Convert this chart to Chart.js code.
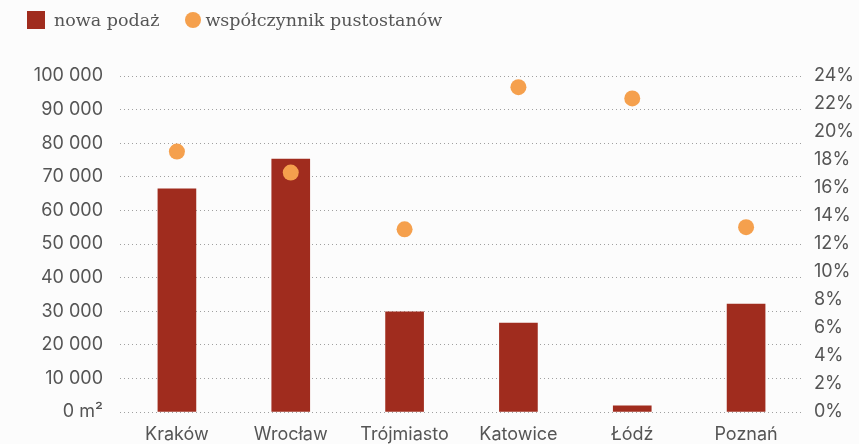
<!DOCTYPE html>
<html>
<head>
<meta charset="utf-8">
<script src="https://cdn.jsdelivr.net/npm/chart.js@4/dist/chart.umd.min.js"></script>
<style>
  html, body { margin: 0; padding: 0; background: #fcfcfc; }
  #wrap { position: relative; width: 859px; height: 444px; }
  #legend { position: absolute; left: 27px; top: 10px; display: flex; align-items: center;
    font-family: "DejaVu Serif", serif; font-size: 17.5px; color: #555; }
  #legend span.item { display: flex; align-items: center; margin-right: 26px; }
  #legend i { display: inline-block; margin-right: 9px; }
  canvas { position: absolute; left: 0; top: 0; }
</style>
</head>
<body>
<div id="wrap">
  <canvas id="chart" width="859" height="444"></canvas>
  <div id="legend"></div>
</div>
<script>
const cities = ['Kraków', 'Wrocław', 'Trójmiasto', 'Katowice', 'Łódź', 'Poznań']
const supply = [66400, 75300, 29800, 26500, 1800, 32100]
const vacancy = [18.6, 17.1, 13.05, 23.2, 22.4, 13.2]
const supplyLabel = 'nowa podaż'
const vacancyLabel = 'współczynnik pustostanów'
const barColor = '#A02C1E'
const dotColor = '#F5A04D'
const tickFont = { family: 'Inter', size: 18 }

const ctx = document.getElementById('chart')

const chart = new Chart(ctx, {
  data: {
    labels: cities,
    datasets: [
      {
        type: 'line',
        label: vacancyLabel,
        data: vacancy,
        yAxisID: 'y1',
        showLine: false,
        pointRadius: 8,
        pointHoverRadius: 8,
        pointBackgroundColor: dotColor,
        pointBorderWidth: 0,
        backgroundColor: dotColor,
        order: 0
      },
      {
        type: 'bar',
        label: supplyLabel,
        data: supply,
        yAxisID: 'y',
        backgroundColor: barColor,
        barThickness: 38,
        order: 1
      }
    ]
  },
  options: {
    responsive: false,
    animation: false,
    layout: { padding: { top: 76, left: 0, right: 0, bottom: 0 } },
    plugins: {
      legend: { display: false },
      tooltip: { enabled: false }
    },
    scales: {
      x: {
        grid: { display: false },
        border: { display: false },
        ticks: { color: '#555', font: tickFont, padding: 4, maxRotation: 0 },
        afterFit: (s) => { s.height = 32 }
      },
      y: {
        position: 'left',
        min: 0,
        max: 100000,
        border: { display: false, dash: [1, 3] },
        grid: { color: '#a0a0a0', lineWidth: 1, drawTicks: false },
        ticks: {
          stepSize: 10000,
          color: '#555',
          font: tickFont,
          padding: 17,
          callback: (v) => v === 0 ? '0 m²' : v.toLocaleString('pl-PL').replace(/\s/g, ' ')
        },
        afterFit: (s) => { s.width = 120 }
      },
      y1: {
        position: 'right',
        min: 0,
        max: 24,
        border: { display: false },
        grid: { display: false, drawTicks: false },
        ticks: {
          stepSize: 2,
          color: '#555',
          font: tickFont,
          padding: 11,
          callback: (v) => v + '%'
        },
        afterFit: (s) => { s.width = 56 }
      }
    }
  }
})

// legend built from the chart datasets, in the reference order
const legend = document.getElementById('legend')
const order = [1, 0]
for (const i of order) {
  const ds = chart.data.datasets[i]
  const item = document.createElement('span')
  item.className = 'item'
  const mark = document.createElement('i')
  if (ds.type === 'bar') {
    mark.style.cssText = 'width:18px;height:18px;background:' + ds.backgroundColor
  } else {
    mark.style.cssText = 'width:16px;height:16px;border-radius:50%;margin-right:4px;background:' + ds.backgroundColor
  }
  item.appendChild(mark)
  item.appendChild(document.createTextNode(ds.label))
  legend.appendChild(item)
}
</script>
</body>
</html>
